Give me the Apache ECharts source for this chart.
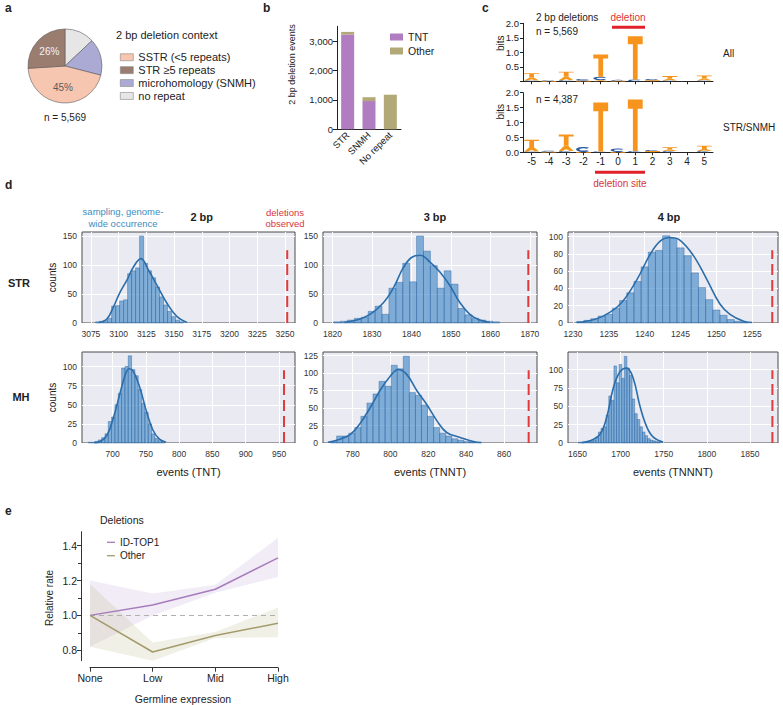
<!DOCTYPE html>
<html><head><meta charset="utf-8">
<script src="https://cdn.jsdelivr.net/npm/echarts@6/dist/echarts.min.js"></script>
<style>html,body{margin:0;padding:0;background:#fff}#c{width:783px;height:705px}</style>
</head><body><div id="c"></div>
<script>
// ================= DATA =================
// a: pie
const pieNames = ['SSTR (<5 repeats)', 'STR \u22655 repeats', 'microhomology (SNMH)', 'no repeat'];
const pieValues = [45, 26, 16, 13];
const pieColors = ['#f7c6b0', '#9b7d70', '#aaaad5', '#e6e6e6'];
// b: stacked bars
const bCats = ['STR', 'SNMH', 'No repeat'];
const bTNT = [3220, 960, 0];
const bOther = [90, 130, 1175];
const bTicks = [0, 1000, 2000, 3000];
// c: sequence logos (bits per letter)
const logoPos = [-5, -4, -3, -2, -1, 0, 1, 2, 3, 4, 5];
const allT = [0.15, 0.01, 0.17, 0.02, 0.76, 0.02, 1.49, 0.04, 0.09, 0.00, 0.10];
const allA = [0.10, 0.00, 0.12, 0.00, 0.04, 0.00, 0.00, 0.00, 0.06, 0.00, 0.07];
const allC = [0.03, 0.02, 0.04, 0.06, 0.12, 0.03, 0.06, 0.04, 0.03, 0.01, 0.03];
const strT = [0.24, 0.02, 0.38, 0.01, 1.64, 0.01, 1.73, 0.04, 0.08, 0.00, 0.11];
const strA = [0.15, 0.00, 0.18, 0.00, 0.00, 0.00, 0.00, 0.00, 0.05, 0.00, 0.07];
const strC = [0.03, 0.03, 0.04, 0.17, 0.03, 0.12, 0.04, 0.04, 0.04, 0.00, 0.04];
const logoYTicks = [0, 0.5, 1.0, 1.5, 2.0];
// d: sampling histograms (bin start, bin width, counts), KDE curves, observed values
const str2Start = 3079.3, str2Width = 3.6;
const str2Counts = [2, 3, 4, 8, 29, 30, 38, 40, 85, 90, 95, 150, 103, 90, 78, 62, 45, 31, 20, 11, 5, 2];
const str2Kde = [[3082, 1], [3089.4, 7], [3095.4, 28], [3101, 52], [3107.5, 74], [3113.5, 97], [3120.1, 111], [3127, 91], [3134.6, 65], [3143.6, 34], [3152.6, 11], [3161.6, 1]];
const str2Obs = 3252;
const str2XTicks = [3075, 3100, 3125, 3150, 3175, 3200, 3225, 3250];
const str2YTicks = [0, 50, 100, 150];

const str3Start = 1820.3, str3Width = 1.75;
const str3Counts = [2, 3, 5, 8, 10, 20, 29, 15, 60, 70, 103, 71, 150, 124, 99, 60, 90, 67, 25, 14, 8, 5, 3, 2];
const str3Kde = [[1823, 1], [1826.1, 5], [1829.5, 15], [1832.9, 35], [1835.4, 60], [1837.9, 95], [1840, 113], [1842.2, 117], [1844.7, 105], [1847.2, 88], [1849.7, 65], [1852.3, 35], [1854.8, 15], [1857.3, 5], [1859.9, 1]];
const str3Obs = 1869.6;
const str3XTicks = [1820, 1830, 1840, 1850, 1860, 1870];
const str3YTicks = [0, 50, 100, 150];

const str4Start = 1230.5, str4Width = 1;
const str4Counts = [1, 3, 5, 8, 10, 17, 26, 35, 48, 65, 82, 84, 101, 98, 87, 78, 58, 41, 27, 15, 9, 4, 2, 1];
const str4Kde = [[1230.5, 1], [1231.9, 2], [1234.2, 8], [1236.6, 22], [1238.9, 50], [1240.8, 80], [1242.2, 95], [1243.5, 99], [1244.9, 96], [1246.8, 78], [1248.7, 50], [1250.5, 22], [1251.9, 10], [1253.8, 2], [1255, 0.5]];
const str4Obs = 1257.8;
const str4XTicks = [1230, 1235, 1240, 1245, 1250, 1255];
const str4YTicks = [0, 20, 40, 60, 80, 100];

const mh2Start = 663.5, mh2Width = 5;
const mh2Counts = [1, 1, 2, 4, 7, 12, 28, 34, 50, 65, 98, 100, 114, 96, 88, 70, 52, 40, 25, 12, 6, 3, 2];
const mh2Kde = [[672, 0.5], [681.5, 2], [691.4, 10], [701.2, 33], [711.1, 65], [718.5, 88], [724.9, 97], [730.8, 94], [740.7, 73], [750.6, 42], [760.5, 17], [770.3, 5], [780.2, 1]];
const mh2Obs = 957.5;
const mh2XTicks = [700, 750, 800, 850, 900, 950];
const mh2YTicks = [0, 25, 50, 75, 100];

const mh3Start = 768.4, mh3Width = 3.2;
const mh3Counts = [2, 10, 10, 14, 22, 38, 57, 70, 88, 81, 111, 106, 124, 72, 68, 54, 38, 22, 14, 10, 6, 4, 2, 1];
const mh3Kde = [[767, 1], [771.7, 4], [778.7, 12], [784, 28], [789.2, 50], [794.5, 75], [799.8, 95], [804.2, 105], [808.6, 98], [813.9, 75], [819.2, 55], [824.5, 32], [829.7, 15], [836.8, 8], [843.8, 2], [848, 0.5]];
const mh3Obs = 873;
const mh3XTicks = [780, 800, 820, 840, 860];
const mh3YTicks = [0, 25, 50, 75, 100, 125];

const mh4Start = 1650.3, mh4Width = 3;
const mh4Counts = [1, 1, 1, 2, 2, 3, 4, 8, 15, 20, 22, 38, 64, 58, 105, 82, 107, 88, 118, 102, 92, 60, 40, 32, 22, 15, 10, 6, 4, 3, 2, 1];
const mh4Kde = [[1655, 0.5], [1664.5, 3], [1676.1, 12], [1683.9, 35], [1691.5, 75], [1699.3, 97], [1707.1, 102], [1714.7, 88], [1722.5, 50], [1730.3, 22], [1737.9, 8], [1749.5, 1]];
const mh4Obs = 1876;
const mh4XTicks = [1650, 1700, 1750, 1800, 1850];
const mh4YTicks = [0, 25, 50, 75, 100];

// e: relative rate vs germline expression
const eCats = ['None', 'Low', 'Mid', 'High'];
const idMean = [1.0, 1.06, 1.15, 1.33];
const idLow = [0.82, 1.0, 1.13, 1.22];
const idHigh = [1.2, 1.125, 1.175, 1.445];
const otMean = [1.0, 0.79, 0.885, 0.955];
const otLow = [0.82, 0.74, 0.87, 0.875];
const otHigh = [1.18, 0.845, 0.905, 1.045];
const eYTicks = [0.8, 1.0, 1.2, 1.4];
const eYMinor = [0.9, 1.1, 1.3];

// ================= STYLE / LAYOUT =================
const FONT = '"Liberation Sans", Arial, Helvetica, sans-serif';
const cTNT = '#b07dc0', cOther = '#b3a878';
const cPurple = '#a67cbd', cOlive = '#a39b6c';
const cRed = '#d9353a', cBlue = '#3d8dc0';
const cOrange = '#f7941d', cOrangeA = '#f39a1e', cC = '#2c5aa0';
const plain = v => String(v);

function txt(x, y, s, size, opt) {
  opt = opt || {};
  const al = opt.align || 'left';
  return {type: 'text', x: x, y: y, rotation: opt.rot || 0, silent: true, z: 100,
    style: {text: s, fill: opt.color || '#222', font: (opt.bold ? 'bold ' : '') + size + 'px ' + FONT,
      textAlign: al, align: al, textVerticalAlign: 'middle', verticalAlign: 'middle'}};
}

// sequence logo glyph renderer (category x axis = position index)
function logoRender(params, api) {
  const xi = api.value(0), y0 = api.value(1), h = api.value(2), code = api.value(3);
  if (!(h > 0)) return;
  const bw = api.size([1, 0])[0];
  const pA = api.coord([xi, y0]);
  const pB = api.coord([xi, y0 + h]);
  const cx = pA[0], L = cx - bw * 0.43, R = cx + bw * 0.43, B = pA[1], T = pB[1];
  const W = R - L, H = B - T;
  let pts, fill;
  if (code === 0) {
    const bar = Math.max(H * 0.18, 0.8), sw = W * 0.32;
    pts = [[L, T], [R, T], [R, T + bar], [cx + sw / 2, T + bar], [cx + sw / 2, B], [cx - sw / 2, B], [cx - sw / 2, T + bar], [L, T + bar]];
    fill = cOrange;
  } else if (code === 1) {
    pts = [[cx - 0.14 * W, T], [cx + 0.14 * W, T], [R, B], [R - 0.27 * W, B], [cx + 0.06 * W, T + 0.72 * H], [cx - 0.06 * W, T + 0.72 * H], [L + 0.27 * W, B], [L, B]];
    fill = cOrangeA;
  } else {
    const cy = (T + B) / 2, rx = W / 2, ry = H / 2;
    const outer = [], inner = [];
    for (let a = 40; a <= 320; a += 20) {
      const r = a * Math.PI / 180;
      outer.push([cx + rx * Math.cos(r), cy - ry * Math.sin(r)]);
      inner.push([cx + rx * 0.55 * Math.cos(r), cy - ry * 0.45 * Math.sin(r)]);
    }
    pts = outer.concat(inner.reverse());
    fill = cC;
  }
  return {type: 'polygon', shape: {points: pts}, style: {fill: fill}};
}
function logoData(T, A, C) {
  const out = [];
  logoPos.forEach((p, i) => {
    const items = [[0, T[i]], [1, A[i]], [2, C[i]]].filter(d => d[1] > 0).sort((a, b) => a[1] - b[1]);
    let base = 0;
    items.forEach(d => { out.push([i, base, d[1], d[0]]); base += d[1]; });
  });
  return out;
}

function histRender(params, api) {
  const x0 = api.value(0), x1 = api.value(1), c = api.value(2);
  const p0 = api.coord([x0, 0]), p1 = api.coord([x1, c]);
  return {type: 'rect', shape: {x: p0[0], y: p1[1], width: p1[0] - p0[0], height: p0[1] - p1[1]},
    style: {fill: 'rgba(62,134,199,0.62)', stroke: 'rgba(38,96,158,0.85)', lineWidth: 0.5}};
}
function histData(start, width, counts) {
  return counts.map((c, i) => [start + i * width, start + (i + 1) * width, c]);
}

const dPanels = [
  {start: str2Start, width: str2Width, counts: str2Counts, kde: str2Kde, obs: str2Obs, xt: str2XTicks, yt: str2YTicks, xmin: 3067, xmax: 3259, ymax: 157, grid: {left: 82, top: 232, width: 213, height: 91}},
  {start: str3Start, width: str3Width, counts: str3Counts, kde: str3Kde, obs: str3Obs, xt: str3XTicks, yt: str3YTicks, xmin: 1817.6, xmax: 1871.8, ymax: 157, grid: {left: 323, top: 232, width: 214, height: 91}},
  {start: str4Start, width: str4Width, counts: str4Counts, kde: str4Kde, obs: str4Obs, xt: str4XTicks, yt: str4YTicks, xmin: 1229.3, xmax: 1258.6, ymax: 105.4, grid: {left: 568, top: 232, width: 210, height: 91}},
  {start: mh2Start, width: mh2Width, counts: mh2Counts, kde: mh2Kde, obs: mh2Obs, xt: mh2XTicks, yt: mh2YTicks, xmin: 654, xmax: 974, ymax: 119, grid: {left: 82, top: 352, width: 213, height: 91}},
  {start: mh3Start, width: mh3Width, counts: mh3Counts, kde: mh3Kde, obs: mh3Obs, xt: mh3XTicks, yt: mh3YTicks, xmin: 764.4, xmax: 877.4, ymax: 130, grid: {left: 323, top: 352, width: 214, height: 91}},
  {start: mh4Start, width: mh4Width, counts: mh4Counts, kde: mh4Kde, obs: mh4Obs, xt: mh4XTicks, yt: mh4YTicks, xmin: 1639, xmax: 1882.5, ymax: 124, grid: {left: 568, top: 352, width: 210, height: 91}}
];

// ================= OPTION =================
const grids = [], xAxes = [], yAxes = [], series = [];
const mkLine = () => ({show: true, onZero: false, lineStyle: {color: '#222', width: 1}});

// b
grids.push({left: 337, top: 26.3, width: 64, height: 103});
xAxes.push({gridIndex: 0, type: 'category', data: bCats, axisLine: mkLine(),
  axisTick: {alignWithLabel: true, length: 3, lineStyle: {color: '#222'}},
  axisLabel: {rotate: 45, interval: 0, fontSize: 9.5, color: '#222', margin: 4}});
yAxes.push({gridIndex: 0, type: 'value', min: 0, max: 3500, axisLine: mkLine(),
  axisTick: {show: true, length: 4, customValues: bTicks, lineStyle: {color: '#222'}},
  axisLabel: {customValues: bTicks, fontSize: 9.5, color: '#222', margin: 4, formatter: v => v.toLocaleString('en-US')},
  splitLine: {show: false}});
series.push({type: 'bar', name: 'TNT', stack: 'b', xAxisIndex: 0, yAxisIndex: 0, data: bTNT, barWidth: 13, itemStyle: {color: cTNT}});
series.push({type: 'bar', name: 'Other', stack: 'b', xAxisIndex: 0, yAxisIndex: 0, data: bOther, barWidth: 13, itemStyle: {color: cOther}});

// c
const logoGrids = [{left: 523, top: 23.3, width: 190, height: 58}, {left: 523, top: 92.7, width: 190, height: 59.6}];
logoGrids.forEach((g, k) => {
  const gi = grids.length;
  grids.push(g);
  xAxes.push({gridIndex: gi, type: 'category', data: logoPos.map(String), boundaryGap: true, axisLine: mkLine(),
    axisTick: {show: true, alignWithLabel: true, interval: 0, length: 3, lineStyle: {color: '#222'}},
    axisLabel: {show: k === 1, interval: 0, fontSize: 10, color: '#222', margin: 4},
    splitLine: {show: false}});
  const yl = k === 0 ? logoYTicks.slice(1) : logoYTicks;
  yAxes.push({gridIndex: gi, type: 'value', min: 0, max: 2, axisLine: mkLine(),
    axisTick: {show: true, length: 3, customValues: logoYTicks, lineStyle: {color: '#222'}},
    axisLabel: {customValues: yl, fontSize: 9.5, color: '#222', margin: 4, formatter: v => v.toFixed(1)},
    splitLine: {show: false}});
  series.push({type: 'custom', xAxisIndex: gi, yAxisIndex: gi, renderItem: logoRender,
    data: k === 0 ? logoData(allT, allA, allC) : logoData(strT, strA, strC), encode: {x: 0, y: 1}, silent: true});
});

// d
dPanels.forEach(p => {
  const gi = grids.length;
  grids.push(Object.assign({show: true, backgroundColor: '#eaeaf2', borderColor: '#4d4d4d', borderWidth: 1}, p.grid));
  xAxes.push({gridIndex: gi, type: 'value', min: p.xmin, max: p.xmax, axisLine: {show: false, onZero: false},
    axisTick: {show: false, customValues: p.xt},
    axisLabel: {customValues: p.xt, fontSize: 8.5, color: '#333', margin: 6, formatter: plain},
    splitLine: {show: true, lineStyle: {color: '#ffffff', width: 1}}});
  yAxes.push({gridIndex: gi, type: 'value', min: 0, max: p.ymax, axisLine: {show: false, onZero: false},
    axisTick: {show: false, customValues: p.yt},
    axisLabel: {customValues: p.yt, fontSize: 8.5, color: '#333', margin: 5, formatter: plain},
    splitLine: {show: true, lineStyle: {color: '#ffffff', width: 1}}});
  series.push({type: 'custom', xAxisIndex: gi, yAxisIndex: gi, renderItem: histRender,
    data: histData(p.start, p.width, p.counts), encode: {x: [0, 1], y: 2}, silent: true, z: 2});
  series.push({type: 'line', xAxisIndex: gi, yAxisIndex: gi, data: p.kde, smooth: 0.4, symbol: 'none',
    lineStyle: {color: '#2a6dab', width: 1.6}, silent: true, z: 3});
  series.push({type: 'line', xAxisIndex: gi, yAxisIndex: gi, data: [[p.obs, 0], [p.obs, p.ymax * 0.8]], symbol: 'none',
    lineStyle: {color: '#e03a3a', width: 2, type: [11, 5]}, silent: true, z: 4});
});

// e
const ge = grids.length;
grids.push({left: 90, top: 531.7, width: 188, height: 129});
xAxes.push({gridIndex: ge, type: 'category', data: eCats, boundaryGap: false, offset: 7,
  axisLine: {show: true, onZero: false, lineStyle: {color: '#333', width: 1}},
  axisTick: {show: true, length: 4, lineStyle: {color: '#333'}},
  axisLabel: {fontSize: 10.5, color: '#222', margin: 5}});
yAxes.push({gridIndex: ge, type: 'value', min: 0.74, max: 1.48, offset: 9, position: 'left',
  axisLine: {show: true, onZero: false, lineStyle: {color: '#333', width: 1}},
  axisTick: {show: true, length: 4, customValues: eYTicks, lineStyle: {color: '#333'}},
  axisLabel: {customValues: eYTicks, fontSize: 10.5, color: '#222', margin: 4, formatter: v => v.toFixed(1)},
  splitLine: {show: false}});
yAxes.push({gridIndex: ge, type: 'value', min: 0.74, max: 1.48, offset: 9, position: 'left',
  axisLine: {show: false, onZero: false},
  axisTick: {show: true, length: 3, customValues: eYMinor, lineStyle: {color: '#333'}},
  axisLabel: {show: false}, splitLine: {show: false}});
const bandDiff = (hi, lo) => hi.map((v, i) => +(v - lo[i]).toFixed(4));
series.push({type: 'line', name: 'idLowBand', xAxisIndex: ge, yAxisIndex: ge, data: idLow, stack: 'idb', symbol: 'none', lineStyle: {width: 0, opacity: 0}, silent: true});
series.push({type: 'line', name: 'idHighBand', xAxisIndex: ge, yAxisIndex: ge, data: bandDiff(idHigh, idLow), stack: 'idb', symbol: 'none', lineStyle: {width: 0, opacity: 0}, areaStyle: {color: 'rgba(170,128,196,0.22)'}, silent: true});
series.push({type: 'line', name: 'otLowBand', xAxisIndex: ge, yAxisIndex: ge, data: otLow, stack: 'otb', symbol: 'none', lineStyle: {width: 0, opacity: 0}, silent: true});
series.push({type: 'line', name: 'otHighBand', xAxisIndex: ge, yAxisIndex: ge, data: bandDiff(otHigh, otLow), stack: 'otb', symbol: 'none', lineStyle: {width: 0, opacity: 0}, areaStyle: {color: 'rgba(178,168,115,0.25)'}, silent: true});
series.push({type: 'line', name: 'ID-TOP1', xAxisIndex: ge, yAxisIndex: ge, data: idMean, symbol: 'none', lineStyle: {color: cPurple, width: 1.5}, z: 5});
series.push({type: 'line', name: 'Other', xAxisIndex: ge, yAxisIndex: ge, data: otMean, symbol: 'none', lineStyle: {color: cOlive, width: 1.5}, z: 5,
  markLine: {silent: true, symbol: ['none', 'none'], label: {show: false}, lineStyle: {color: '#b0b0b0', type: [5, 4], width: 1.2}, data: [{yAxis: 1}]}});

// a: pie (drawn clockwise from 12 o'clock: no repeat, SNMH, SSTR, STR>=5)
const pieOrder = [3, 2, 0, 1];
series.push({type: 'pie', center: [65, 66], radius: 37, startAngle: 90, clockwise: true, silent: true,
  labelLine: {show: false},
  itemStyle: {borderColor: '#5a5a5a', borderWidth: 0.6},
  data: pieOrder.map(i => ({name: pieNames[i], value: pieValues[i], itemStyle: {color: pieColors[i]},
    label: {show: i < 2, position: 'inside', formatter: '{d}%', fontSize: 10, color: i === 1 ? '#f2f2f2' : '#5a5a5a'}}))
});

const option = {
  animation: false,
  textStyle: {fontFamily: FONT},
  grid: grids, xAxis: xAxes, yAxis: yAxes, series: series,
  legend: [
    {data: pieNames.map((n, i) => ({name: n, itemStyle: {color: pieColors[i], borderColor: '#888', borderWidth: 0.6}})),
      orient: 'vertical', left: 115, top: 45.8, icon: 'rect', itemWidth: 13, itemHeight: 7, itemGap: 0, selectedMode: false,
      textStyle: {fontSize: 11, lineHeight: 12.9, color: '#222', fontFamily: FONT}},
    {data: [{name: 'TNT', itemStyle: {color: cTNT}}, {name: 'Other', itemStyle: {color: cOther}}],
      orient: 'vertical', left: 385, top: 25, icon: 'rect', itemWidth: 13, itemHeight: 7, itemGap: 0, selectedMode: false,
      textStyle: {fontSize: 10.5, lineHeight: 14, color: '#222', fontFamily: FONT}},
    {data: [{name: 'ID-TOP1', itemStyle: {color: cPurple}}, {name: 'Other', itemStyle: {color: cOlive}}],
      orient: 'vertical', left: 102, top: 530.6, icon: 'rect', itemWidth: 8, itemHeight: 1.3, itemGap: 0, selectedMode: false,
      textStyle: {fontSize: 10, lineHeight: 13.4, color: '#222', fontFamily: FONT}}
  ],
  graphic: [
    txt(5, 8, 'a', 12, {bold: true}), txt(263, 8, 'b', 12, {bold: true}), txt(482, 8, 'c', 12, {bold: true}),
    txt(5, 185, 'd', 12, {bold: true}), txt(5, 511, 'e', 12, {bold: true}),
    txt(116, 35, '2 bp deletion context', 11), txt(65, 117, 'n = 5,569', 10, {align: 'center'}),
    txt(291.7, 64.5, '2 bp deletion events', 9, {rot: Math.PI / 2, align: 'center'}),
    txt(536, 17.3, '2 bp deletions', 10), txt(536, 31, 'n = 5,569', 10),
    txt(628, 17.3, 'deletion', 10, {color: cRed, align: 'center'}),
    txt(723, 53.3, 'All', 10), txt(723, 127.7, 'STR/SNMH', 10), txt(536, 99, 'n = 4,387', 10),
    txt(500, 43.3, 'bits', 10, {rot: Math.PI / 2, align: 'center'}), txt(500, 111.7, 'bits', 10, {rot: Math.PI / 2, align: 'center'}),
    txt(620, 183, 'deletion site', 10, {color: cRed, align: 'center'}),
    {type: 'rect', silent: true, shape: {x: 612, y: 25.8, width: 33, height: 3}, style: {fill: '#e0202a'}},
    {type: 'rect', silent: true, shape: {x: 595, y: 170.8, width: 50, height: 3}, style: {fill: '#e0202a'}},
    txt(123, 211.7, 'sampling, genome-', 9.5, {color: cBlue, align: 'center'}),
    txt(123, 223, 'wide occurrence', 9.5, {color: cBlue, align: 'center'}),
    txt(201.7, 217, '2 bp', 11, {bold: true, align: 'center'}),
    txt(285, 212, 'deletions', 9.5, {color: cRed, align: 'center'}),
    txt(285, 223, 'observed', 9.5, {color: cRed, align: 'center'}),
    txt(435, 217, '3 bp', 11, {bold: true, align: 'center'}),
    txt(669, 217, '4 bp', 11, {bold: true, align: 'center'}),
    txt(19, 283, 'STR', 11, {bold: true, align: 'center'}), txt(21, 397, 'MH', 11, {bold: true, align: 'center'}),
    txt(52, 277.5, 'counts', 10, {rot: Math.PI / 2, align: 'center'}), txt(52, 397.5, 'counts', 10, {rot: Math.PI / 2, align: 'center'}),
    txt(188.5, 472, 'events (TNT)', 11, {align: 'center'}), txt(430, 472, 'events (TNNT)', 11, {align: 'center'}),
    txt(673, 472, 'events (TNNNT)', 11, {align: 'center'}),
    txt(100, 520, 'Deletions', 10.5), txt(49, 598, 'Relative rate', 10, {rot: Math.PI / 2, align: 'center'}),
    txt(183, 699, 'Germline expression', 10.5, {align: 'center'})
  ]
};

const chart = echarts.init(document.getElementById('c'), null, {renderer: 'svg', width: 783, height: 705});
chart.setOption(option);
</script>
</body></html>
